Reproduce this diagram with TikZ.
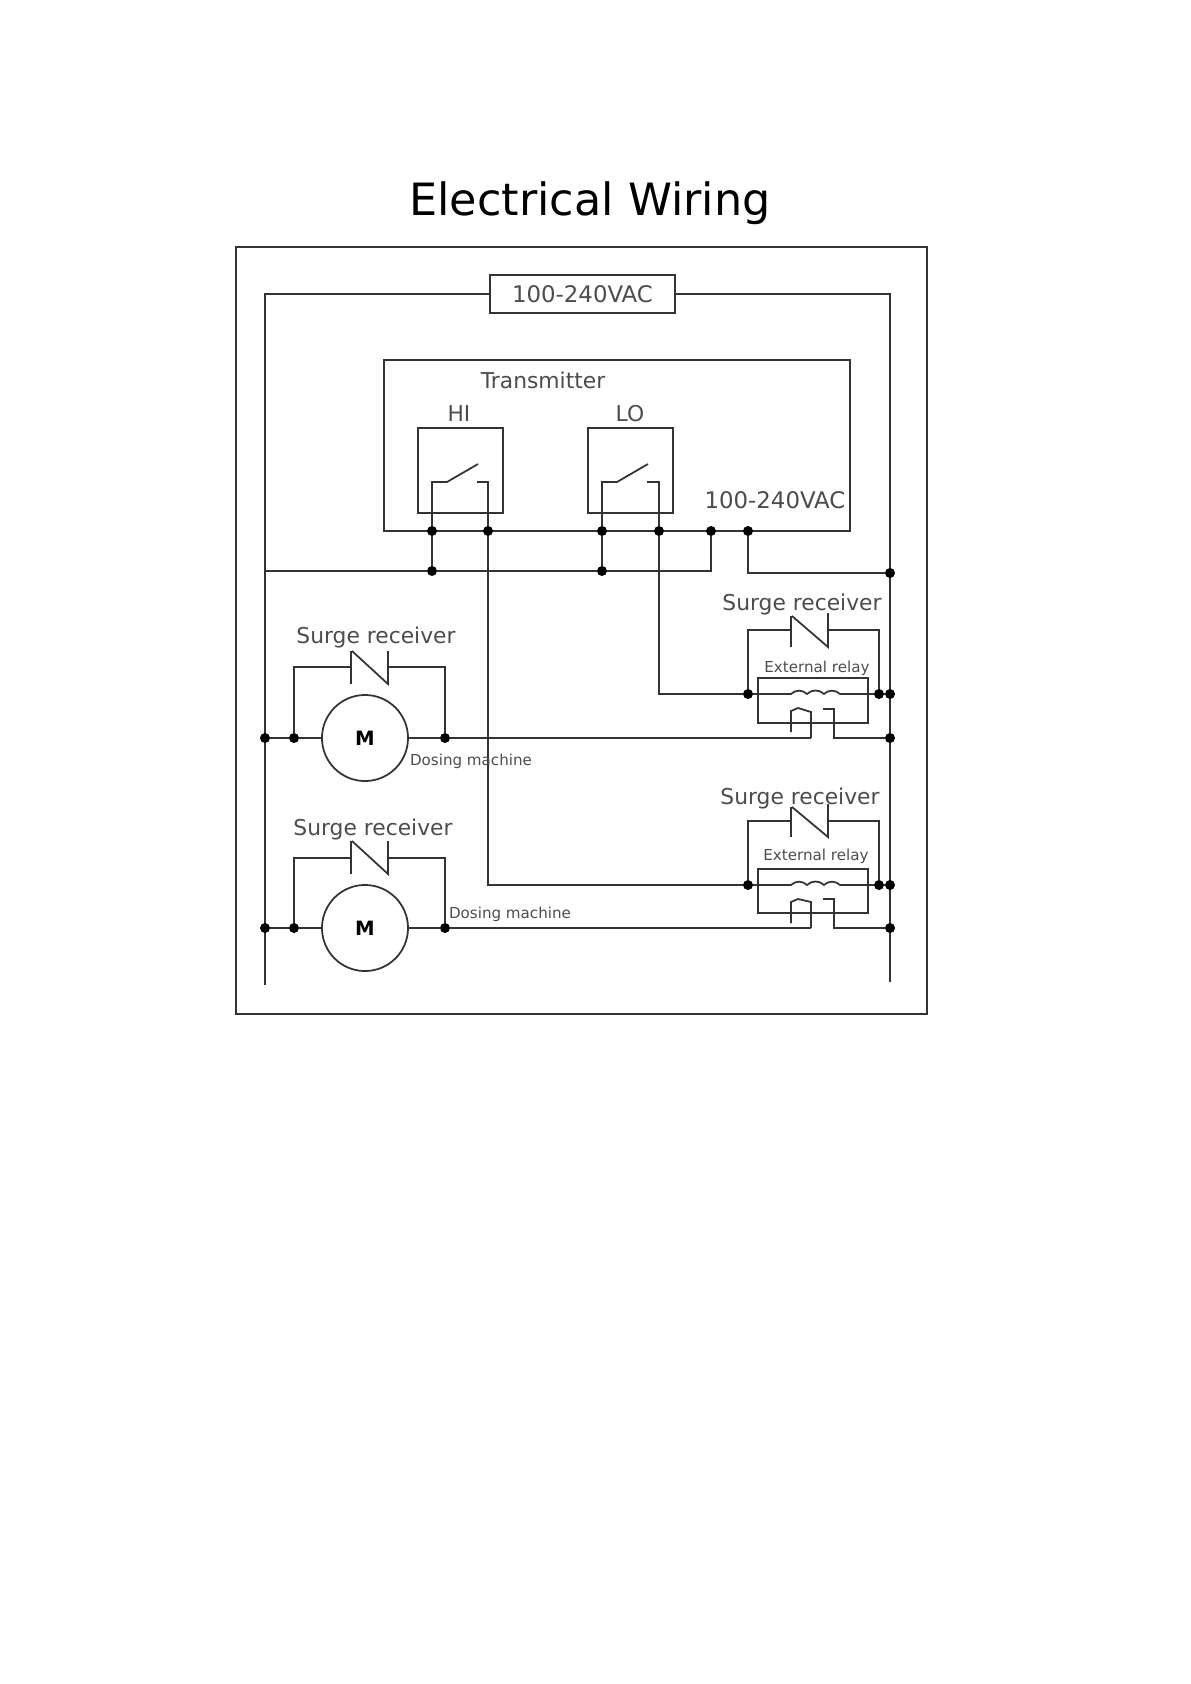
\documentclass[tikz,border=0pt]{standalone}
\usepackage{fontspec}
\setmainfont{DejaVu Sans}
\usepackage{tikz}

\newcommand{\textsize}[1]{\fontsize{#1}{#1}\selectfont}

\begin{document}
\begin{tikzpicture}[x=0.01cm, y=-0.01cm, line width=0.5pt, color=black!80,
    every node/.style={inner sep=0, outer sep=0},
    dot/.style={circle, fill=black, minimum size=0.1cm},
    box/.style={draw, minimum width=#1},
    label/.style={text=black!70, font=\textsize{6.2}},
    small label/.style={text=black!70, font=\textsize{4.3}}]
\useasboundingbox (0,0) rectangle (1191,1684);

\node[text=black, font=\textsize{12.65}] (title) at (590, 203) {Electrical Wiring};
\node[box=6.91cm, minimum height=7.67cm] (frame) at (581.5, 630.5) {};

\node[box=1.85cm, minimum height=0.38cm, label, font=\textsize{6.5}] (supply) at (582.5, 294) {100-240VAC};
\coordinate (left end) at (265, 985);
\coordinate (right end) at (890, 982);
\draw (supply.west) -| (left end);
\draw (supply.east) -| (right end);

% transmitter
\node[box=4.66cm, minimum height=1.71cm] (transmitter) at (617, 445.5) {};
\node[label] (transmitter label) at (543, 380) {Transmitter};
\node[box=0.85cm, minimum height=0.85cm] (hi) at (460.5, 470.5) {};
\node[box=0.85cm, minimum height=0.85cm] (lo) at (630.5, 470.5) {};
\node[label] (hi label) at (459, 414) {HI};
\node[label] (lo label) at (630, 414) {LO};
\node[label, font=\textsize{6.5}] (ac label) at (775, 500) {100-240VAC};

\node[dot] (hi a) at (432, 531) {};
\node[dot] (hi b) at (488, 531) {};
\node[dot] (lo a) at (602, 531) {};
\node[dot] (lo b) at (659, 531) {};
\node[dot] (ac a) at (711, 531) {};
\node[dot] (ac b) at (748, 531) {};
\node[dot] (bus hi) at (432, 571) {};
\node[dot] (bus lo) at (602, 571) {};
\node[dot] (bus right) at (890, 573) {};

\coordinate (hi pivot) at (447, 482);
\coordinate (hi tip) at (478, 464);
\coordinate (hi stop) at (477, 482);
\coordinate (lo pivot) at (617, 482);
\coordinate (lo tip) at (648, 464);
\coordinate (lo stop) at (647, 482);
\draw (hi a) |- (hi pivot) -- (hi tip);
\draw (hi b) |- (hi stop);
\draw (lo a) |- (lo pivot) -- (lo tip);
\draw (lo b) |- (lo stop);
\draw (hi a) -- (bus hi);
\draw (lo a) -- (bus lo);
\draw (265, 571) -- (bus hi) -- (bus lo) -| (ac a);
\draw (ac b) |- (bus right);

% upper relay
\node[label] (surge a) at (802, 604) {Surge receiver};
\node[small label] (relay a label) at (817, 668) {External relay};
\node[box=1.10cm, minimum height=0.45cm] (relay a) at (813, 700.5) {};
\node[dot] (coil a in) at (748, 694) {};
\node[dot] (coil a out) at (879, 694) {};
\node[dot] (coil a bus) at (890, 694) {};
\node[dot] (contact a bus) at (890, 738) {};
\coordinate (plate a1) at (791, 630);
\coordinate (plate a2) at (828, 630);
\draw (coil a in) |- (plate a1);
\draw (coil a out) |- (plate a2);
\draw (791, 616) -- (791, 647);
\draw (828, 613) -- (828, 647) -- (792, 616);
\draw (lo b) |- (coil a in);
\draw (coil a in) -- (791, 694) to[bend left=45] (807, 694) to[bend left=45] (824, 694) to[bend left=45] (840, 694) -- (coil a out) -- (coil a bus);
\draw (823, 709) -- (834, 709) |- (contact a bus);
\draw (791, 732) -- (791, 711) -- (798, 708) -- (811, 712) -- (811, 738);

% lower relay
\node[label] (surge b) at (800, 798) {Surge receiver};
\node[small label] (relay b label) at (816, 856) {External relay};
\node[box=1.10cm, minimum height=0.44cm] (relay b) at (813, 891) {};
\node[dot] (coil b in) at (748, 885) {};
\node[dot] (coil b out) at (879, 885) {};
\node[dot] (coil b bus) at (890, 885) {};
\node[dot] (contact b bus) at (890, 928) {};
\coordinate (plate b1) at (791, 821);
\coordinate (plate b2) at (828, 821);
\draw (coil b in) |- (plate b1);
\draw (coil b out) |- (plate b2);
\draw (791, 807) -- (791, 837);
\draw (828, 804) -- (828, 837) -- (792, 807);
\draw (hi b) |- (coil b in);
\draw (coil b in) -- (791, 885) to[bend left=45] (807, 885) to[bend left=45] (824, 885) to[bend left=45] (840, 885) -- (coil b out) -- (coil b bus);
\draw (823, 899) -- (834, 899) |- (contact b bus);
\draw (791, 923) -- (791, 902) -- (798, 899) -- (811, 902) -- (811, 928);

% upper motor
\node[label] (surge c) at (376, 637) {Surge receiver};
\node[draw, circle, minimum size=0.86cm, font=\textsize{5.6}\bfseries, text=black] (motor a) at (365, 738) {M};
\node[small label] (dosing a) at (471, 761) {Dosing machine};
\node[dot] (motor a bus) at (265, 738) {};
\node[dot] (motor a in) at (294, 738) {};
\node[dot] (motor a out) at (445, 738) {};
\coordinate (plate c1) at (351, 667);
\coordinate (plate c2) at (388, 667);
\draw (motor a in) |- (plate c1);
\draw (motor a out) |- (plate c2);
\draw (351, 651) -- (351, 684);
\draw (388, 651) -- (388, 684) -- (352, 651);
\draw (motor a bus) -- (motor a in) -- (motor a) -- (motor a out) -- (811, 738);

% lower motor
\node[label] (surge d) at (373, 829) {Surge receiver};
\node[draw, circle, minimum size=0.86cm, font=\textsize{5.6}\bfseries, text=black] (motor b) at (365, 928) {M};
\node[small label] (dosing b) at (510, 914) {Dosing machine};
\node[dot] (motor b bus) at (265, 928) {};
\node[dot] (motor b in) at (294, 928) {};
\node[dot] (motor b out) at (445, 928) {};
\coordinate (plate d1) at (351, 858);
\coordinate (plate d2) at (388, 858);
\draw (motor b in) |- (plate d1);
\draw (motor b out) |- (plate d2);
\draw (351, 841) -- (351, 874);
\draw (388, 841) -- (388, 874) -- (352, 841);
\draw (motor b bus) -- (motor b in) -- (motor b) -- (motor b out) -- (811, 928);
\end{tikzpicture}
\end{document}
